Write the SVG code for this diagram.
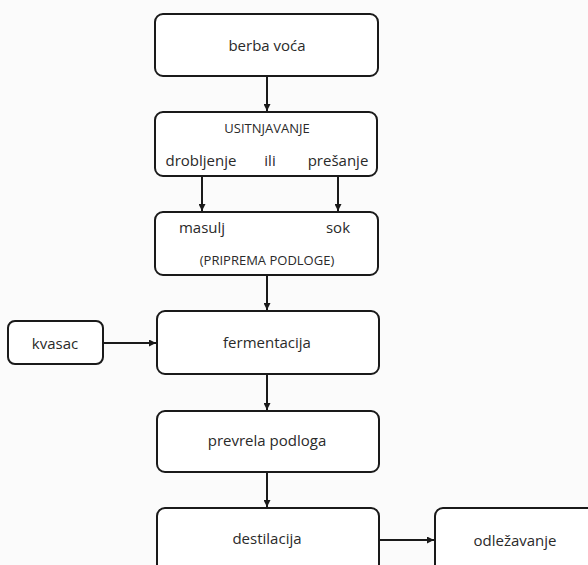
<svg xmlns="http://www.w3.org/2000/svg" width="588" height="565" viewBox="0 0 588 565">
<style>
.box{fill:#fff;stroke:#1a1a1a;stroke-width:2}
.t{font-family:"Open Sans","Liberation Sans",sans-serif;font-size:15px;fill:#2a2a2a;text-anchor:middle;dominant-baseline:central}
.s{font-size:13px}
.c{stroke:#1a1a1a;stroke-width:2;fill:none;marker-end:url(#ah)}
</style>
<defs>
<marker id="ah" viewBox="0 0 10 10" refX="10" refY="5" markerWidth="7" markerHeight="7" markerUnits="userSpaceOnUse" orient="auto">
<path d="M0,0 L10,5 L0,10 z" fill="#1a1a1a"/>
</marker>
</defs>
<rect width="588" height="565" fill="#fbfbfb"/>
<g id="berba"><rect class="box" x="155" y="14" width="223" height="62" rx="8"/><text class="t" x="267" y="45">berba voća</text></g>
<g id="usitnjavanje"><rect class="box" x="155" y="112" width="222" height="64" rx="8"/>
<text class="t s" x="267" y="128">USITNJAVANJE</text>
<text class="t" x="201" y="160">drobljenje</text>
<text class="t" x="270" y="160">ili</text>
<text class="t" x="338" y="160">prešanje</text></g>
<g id="priprema"><rect class="box" x="155" y="212" width="223" height="63" rx="8"/>
<text class="t" x="202" y="227">masulj</text>
<text class="t" x="338" y="227">sok</text>
<text class="t s" x="267" y="260">(PRIPREMA PODLOGE)</text></g>
<g id="kvasac"><rect class="box" x="8" y="321" width="95" height="43" rx="7"/><text class="t" x="55" y="343">kvasac</text></g>
<g id="fermentacija"><rect class="box" x="157" y="311" width="222" height="63" rx="8"/><text class="t" x="267" y="342">fermentacija</text></g>
<g id="prevrela"><rect class="box" x="157" y="411" width="222" height="61" rx="8"/><text class="t" x="267" y="440">prevrela podloga</text></g>
<g id="destilacija"><rect class="box" x="157" y="508" width="222" height="80" rx="8"/><text class="t" x="267" y="538">destilacija</text></g>
<g id="odlezavanje"><rect class="box" x="435" y="508" width="180" height="80" rx="8"/><text class="t" x="515" y="540">odležavanje</text></g>
<g id="connectors">
<line class="c" x1="267" y1="77" x2="267" y2="111"/>
<line class="c" x1="202" y1="177" x2="202" y2="211"/>
<line class="c" x1="338" y1="177" x2="338" y2="211"/>
<line class="c" x1="267" y1="276" x2="267" y2="310"/>
<line class="c" x1="104" y1="343" x2="156" y2="343"/>
<line class="c" x1="267" y1="375" x2="267" y2="410"/>
<line class="c" x1="267" y1="473" x2="267" y2="507"/>
<line class="c" x1="380" y1="540" x2="434" y2="540"/>
</g>
</svg>
